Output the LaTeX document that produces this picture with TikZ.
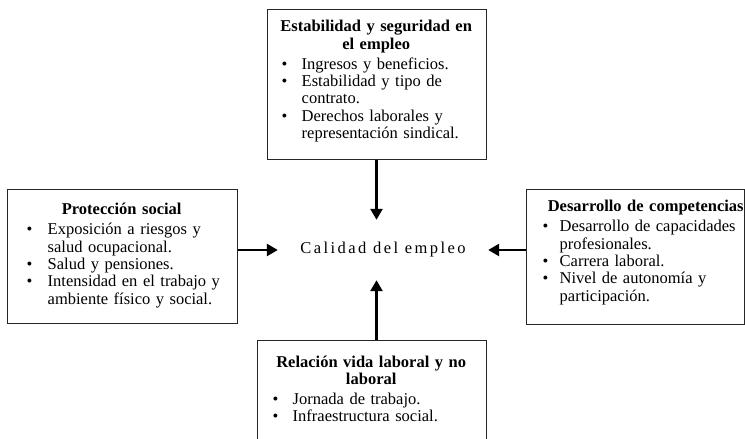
\documentclass[tikz,border=0pt]{standalone}
\usepackage{fontspec}
\setmainfont{Liberation Serif}
\usetikzlibrary{arrows.meta}

\newcommand{\letra}{\fontsize{16.5}{17.3}\selectfont}
% titulo centrado en la caja
\newcommand{\titulo}[1]{\makebox[\linewidth]{\textbf{#1}}}
% vineta: sangria, ancho de la etiqueta
\newcommand{\vin}[2]{\hspace*{#1}\makebox[#2][l]{\textbullet}}

\begin{document}
\begin{tikzpicture}[x=1pt,y=-1pt,
		caja/.style={draw=black!85, line width=1pt, inner sep=0pt},
		texto/.style={anchor=north west, inner sep=0pt, align=left, font=\letra},
		flecha/.style={line width=2.6pt, -{Triangle[length=11pt,width=12pt]}}]
	\useasboundingbox (0,0) rectangle (745,439);
	% cajas
	\node[caja, minimum width=219, minimum height=150] (estabilidad) at (376.5,84.5) {};
	\node[caja, minimum width=230, minimum height=134] (proteccion) at (122,256.3) {};
	\node[caja, minimum width=218, minimum height=135] (desarrollo) at (635,257) {};
	\node[caja, minimum width=229, minimum height=110] (relacion) at (371.5,395) {};
	% centro
	\node[inner sep=0pt, minimum width=210, minimum height=60, font=\letra] (calidad) at (383,250)
		{\addfontfeature{LetterSpace=15}Calidad del empleo};
	% textos
	\node[texto, text width=209] (estabilidad-txt) at ([xshift=5pt,yshift=-11.2pt]estabilidad.north west) {%
		\titulo{Estabilidad y seguridad en}\\
		\titulo{el empleo}\\[2.7pt]
		\vin{10pt}{20pt}Ingresos y beneficios.\\
		\vin{10pt}{20pt}Estabilidad y tipo de\\
		\hspace*{30pt}contrato.\\
		\vin{10pt}{20pt}Derechos laborales y\\
		\hspace*{30pt}representación sindical.};
	\node[texto, text width=220] (proteccion-txt) at ([xshift=5pt,yshift=-14.4pt]proteccion.north west) {%
		\titulo{Protección social}\\[2.7pt]
		\vin{15pt}{21pt}Exposición a riesgos y\\
		\hspace*{36pt}salud ocupacional.\\
		\vin{15pt}{21pt}Salud y pensiones.\\
		\vin{15pt}{21pt}Intensidad en el trabajo y\\
		\hspace*{36pt}ambiente físico y social.};
	\node[texto, text width=230] (desarrollo-txt) at ([xshift=5pt,yshift=-11.2pt]desarrollo.north west) {%
		\titulo{Desarrollo de competencias}\\[2.7pt]
		\vin{12pt}{17pt}Desarrollo de capacidades\\
		\hspace*{29pt}profesionales.\\
		\vin{12pt}{17pt}Carrera laboral.\\
		\vin{12pt}{17pt}Nivel de autonomía y\\
		\hspace*{29pt}participación.};
	\node[texto, text width=219] (relacion-txt) at ([xshift=5pt,yshift=-16pt]relacion.north west) {%
		\titulo{Relación vida laboral y no}\\
		\titulo{laboral}\\[2.7pt]
		\vin{11pt}{20pt}Jornada de trabajo.\\
		\vin{11pt}{20pt}Infraestructura social.};
	% flechas
	\draw[flecha] (estabilidad.south) -- (estabilidad.south |- calidad.north);
	\draw[flecha] (proteccion.east |- calidad.west) -- (calidad.west);
	\draw[flecha] (desarrollo.west |- calidad.east) -- (calidad.east);
	\draw[flecha] (relacion.north -| estabilidad.south) -- (calidad.south -| estabilidad.south);
\end{tikzpicture}
\end{document}
